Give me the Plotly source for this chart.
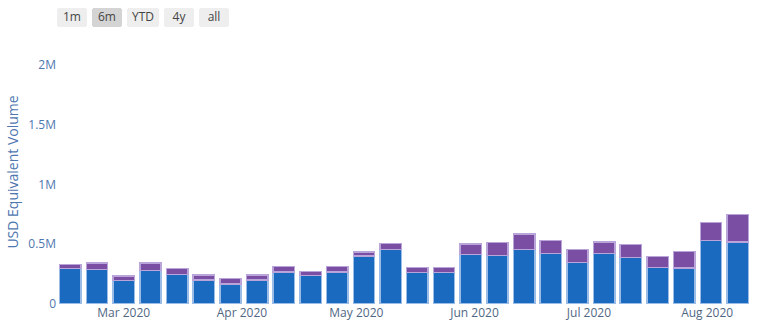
import plotly.graph_objects as go

weeks = ["2020-02-16", "2020-02-23", "2020-03-01", "2020-03-08", "2020-03-15",
         "2020-03-22", "2020-03-29", "2020-04-05", "2020-04-12", "2020-04-19",
         "2020-04-26", "2020-05-03", "2020-05-10", "2020-05-17", "2020-05-24",
         "2020-05-31", "2020-06-07", "2020-06-14", "2020-06-21", "2020-06-28",
         "2020-07-05", "2020-07-12", "2020-07-19", "2020-07-26", "2020-08-02",
         "2020-08-09"]

blue_vol = [296000, 287000, 195000, 279000, 245000, 203000, 167000, 203000, 267000, 237000,
            270000, 402000, 455000, 262000, 262000, 413000, 405000, 455000, 422000, 346000,
            422000, 388000, 304000, 301000, 531000, 519000]
total_vol = [332000, 343000, 234000, 343000, 296000, 242000, 212000, 242000, 312000, 273000,
             312000, 435000, 506000, 304000, 307000, 502000, 514000, 587000, 531000, 458000,
             517000, 497000, 399000, 439000, 682000, 750000]
purple_vol = [t - b for t, b in zip(total_vol, blue_vol)]

text_color = "#4f77b0"

fig = go.Figure()
fig.add_trace(go.Bar(x=weeks, y=blue_vol, name="Volume A",
                     marker=dict(color="#1a6bbf", line=dict(color="#9cbce8", width=1.5))))
fig.add_trace(go.Bar(x=weeks, y=purple_vol, name="Volume B",
                     marker=dict(color="#7a4ea3", line=dict(color="#b9a5d9", width=1.5))))

fig.update_layout(
    barmode="stack",
    width=758, height=334,
    margin=dict(l=57, r=7, t=40, b=30),
    paper_bgcolor="white", plot_bgcolor="white",
    showlegend=False,
    font=dict(family="Open Sans, verdana, arial, sans-serif", size=12, color=text_color),
    xaxis=dict(
        type="date",
        range=["2020-02-12 12:00", "2020-08-12 12:00"],
        showgrid=False, zeroline=False,
        tickfont=dict(color="#506784"),
        rangeselector=dict(
            bgcolor="#eeeeee", activecolor="#d4d4d4",
            font=dict(color="#444", size=12),
            x=0.0, y=1.048, xanchor="left", yanchor="bottom",
            buttons=[
                dict(count=1, label="1m", step="month", stepmode="backward"),
                dict(count=6, label="6m", step="month", stepmode="backward"),
                dict(count=1, label="YTD", step="year", stepmode="todate"),
                dict(count=4, label="4y", step="year", stepmode="backward"),
                dict(label="all", step="all"),
            ],
        ),
    ),
    yaxis=dict(
        title=dict(text="USD Equivalent Volume", font=dict(size=14, color=text_color), standoff=6),
        range=[0, 2210000],
        tickvals=[0, 500000, 1000000, 1500000, 2000000],
        ticktext=["0", "0.5M", "1M", "1.5M", "2M"],
        showgrid=False, zeroline=False,
    ),
)

fig.write_html("out.html")
